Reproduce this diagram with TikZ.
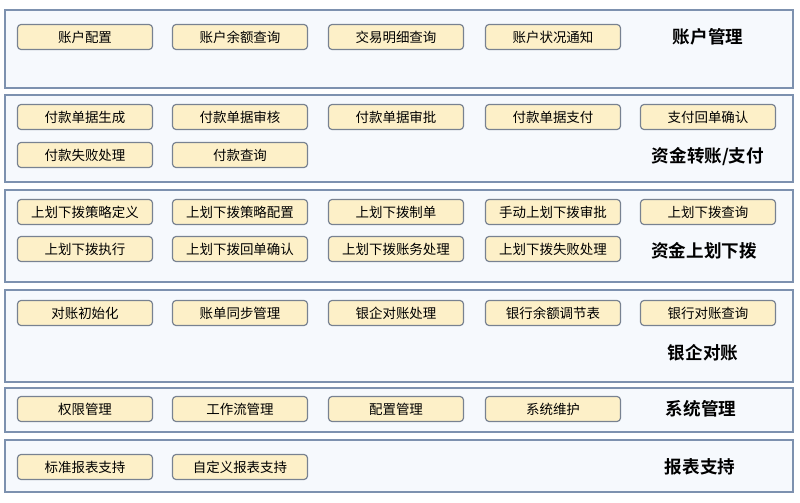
\documentclass[tikz,border=0pt]{standalone}
\usepackage{fontspec}
\setmainfont{Noto Sans CJK SC}
\newfontfamily\cjkb{Noto Sans CJK SC}[BoldFont={* Bold}]
\definecolor{pb}{RGB}{125,145,175}
\definecolor{pf}{RGB}{246,249,253}
\definecolor{bb}{RGB}{120,130,145}
\definecolor{bf}{RGB}{253,240,200}
\begin{document}
\begin{tikzpicture}[x=0.03cm,y=-0.03cm,
  panel/.style={draw=pb,line width=1.3pt,fill=pf},
  btn/.style={draw=bb,line width=1pt,fill=bf,rounded corners=3pt,minimum width=4.05cm,minimum height=0.75cm,font=\fontsize{11.5}{12}\selectfont,inner sep=0pt},
  sec/.style={font=\fontsize{15}{16}\selectfont\bfseries,inner sep=0pt}]
\useasboundingbox (0,0) rectangle (800,503);
\fill[white] (0,0) rectangle (800,503);
\foreach \n/\a/\b in {p1/10/88,p2/95/182,p3/190/282,p4/290/382,p5/388/432,p6/440/492}
  \draw[panel] (5,\a) rectangle (793,\b);
\foreach \n/\x/\y/\t in {a1/85/37/账户配置,a2/240/37/账户余额查询,a3/396/37/交易明细查询,a4/553/37/账户状况通知,
 b1/85/117/付款单据生成,b2/240/117/付款单据审核,b3/396/117/付款单据审批,b4/553/117/付款单据支付,b5/708/117/支付回单确认,
 b6/85/155/付款失败处理,b7/240/155/付款查询,
 c1/85/212/上划下拨策略定义,c2/240/212/上划下拨策略配置,c3/396/212/上划下拨制单,c4/553/212/手动上划下拨审批,c5/708/212/上划下拨查询,
 c6/85/249/上划下拨执行,c7/240/249/上划下拨回单确认,c8/396/249/上划下拨账务处理,c9/553/249/上划下拨失败处理,
 d1/85/313/对账初始化,d2/240/313/账单同步管理,d3/396/313/银企对账处理,d4/553/313/银行余额调节表,d5/708/313/银行对账查询,
 e1/85/409/权限管理,e2/240/409/工作流管理,e3/396/409/配置管理,e4/553/409/系统维护,
 f1/85/467/标准报表支持,f2/240/467/自定义报表支持}
  \node[btn] (\n) at (\x,\y) {\t};
\foreach \n/\x/\y/\t in {s1/708/37/账户管理,s2/708/157/{资金转账/支付},s3/704/251/资金上划下拨,s4/703/353/银企对账,s5/701/409/系统管理,s6/700/467/报表支持}
  \node[sec] (\n) at (\x,\y) {\cjkb\bfseries \t};
\end{tikzpicture}
\end{document}
